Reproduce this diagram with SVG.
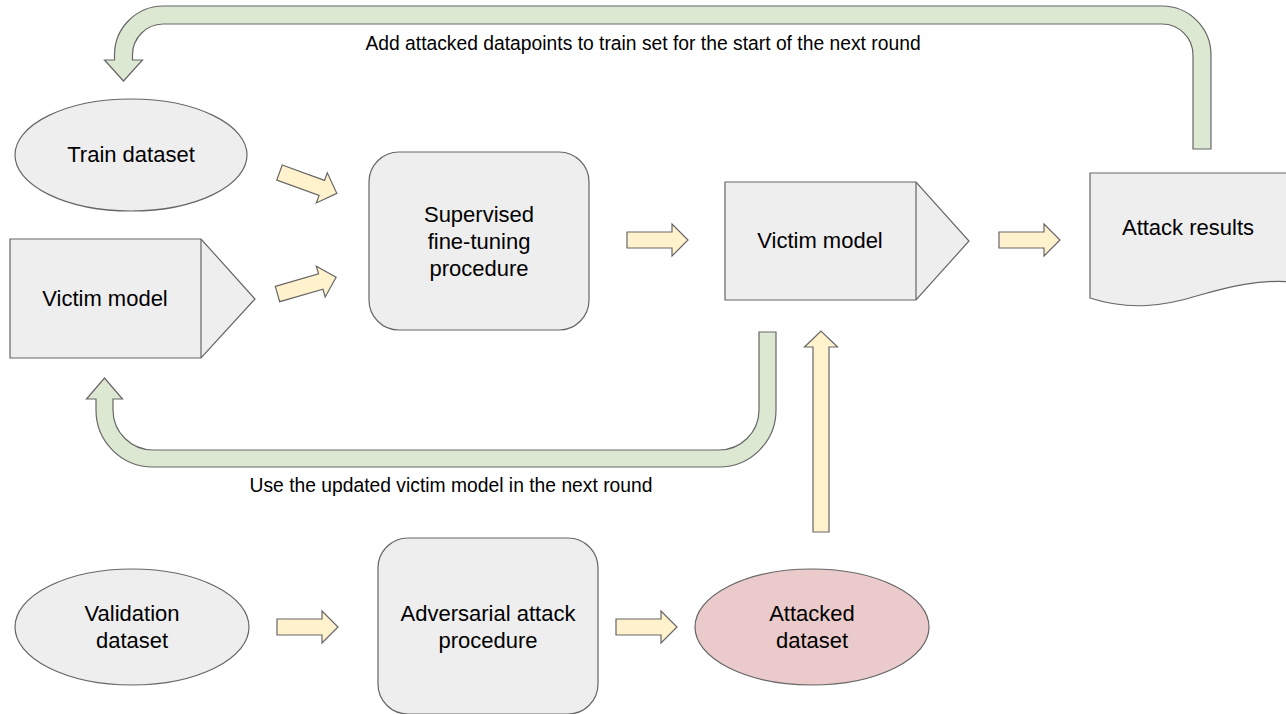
<svg xmlns="http://www.w3.org/2000/svg" xmlns:xlink="http://www.w3.org/1999/xlink" width="1286" height="714" viewBox="0 0 1286 714">
<defs>
<style>
.node{fill:#eeeeee;stroke:#666666;stroke-width:1.2}
.pink{fill:#eacaca;stroke:#666666;stroke-width:1.2}
.ya{fill:#fff2cc;stroke:#666666;stroke-width:1.2;stroke-linejoin:miter}
.ga{fill:#dde8d3;stroke:#666666;stroke-width:1.2}
.t{font-family:"Liberation Sans",Arial,sans-serif;font-size:22px;fill:#000000;text-anchor:middle}
.lbl{font-family:"Liberation Sans",Arial,sans-serif;font-size:19.3px;fill:#000000;text-anchor:middle}
</style>
<path id="ya" d="M0,-8 H45 V-16 L61,0 L45,16 V8 H0 Z"/>
</defs>
<rect width="1286" height="714" fill="#ffffff"/>

<g id="connectors">
<path class="ga" d="M1193,149 V55 A31,31 0 0 0 1162,24 H163 A31,31 0 0 0 132.5,55 V60 H142.5 L123.5,81 L104.5,60 H114.5 V55 A49,49 0 0 1 163,6 H1162 A49,49 0 0 1 1211,55 V149 Z"/>
<path class="ga" d="M759,332 V410 A40,40 0 0 1 719,450 H153 A40,40 0 0 1 113,410 V399 H122.5 L104.5,378 L86.5,399 H96 V410 A57,57 0 0 0 153,467 H719 A57,57 0 0 0 776,410 V332 Z"/>
<use xlink:href="#ya" class="ya" transform="translate(279.5,172.5) rotate(20)"/>
<use xlink:href="#ya" class="ya" transform="translate(277.5,294) rotate(-16)"/>
<use xlink:href="#ya" class="ya" transform="translate(627,240)"/>
<use xlink:href="#ya" class="ya" transform="translate(999,240)"/>
<use xlink:href="#ya" class="ya" transform="translate(277,627)"/>
<use xlink:href="#ya" class="ya" transform="translate(616,627)"/>
<path class="ya" d="M813,532 V347 H804.5 L821,331 L837.5,347 H829 V532 Z"/>
<text class="lbl" x="643" y="50">Add attacked datapoints to train set for the start of the next round</text>
<text class="lbl" x="451" y="492">Use the updated victim model in the next round</text>
</g>

<g id="train-dataset">
<ellipse class="node" cx="131" cy="155" rx="116" ry="56"/>
<text class="t" x="131" y="162">Train dataset</text>
</g>

<g id="victim-model-1">
<path class="node" d="M10,239 H201 L255,299 L201,358 H10 Z"/>
<line x1="201" y1="239" x2="201" y2="358" stroke="#666666" stroke-width="1.2"/>
<text class="t" x="105" y="306">Victim model</text>
</g>

<g id="supervised-fine-tuning">
<rect class="node" x="369" y="152" width="220" height="178" rx="30" ry="30"/>
<text class="t" x="479" y="222">Supervised</text>
<text class="t" x="479" y="249">fine-tuning</text>
<text class="t" x="479" y="276">procedure</text>
</g>

<g id="victim-model-2">
<path class="node" d="M725,182 H916 L969,241 L916,300 H725 Z"/>
<line x1="916" y1="182" x2="916" y2="300" stroke="#666666" stroke-width="1.2"/>
<text class="t" x="820" y="248">Victim model</text>
</g>

<g id="attack-results">
<path class="node" d="M1090,173 H1292 V282 C1260,279 1228,287 1200,295 C1165,306 1130,311 1090,298 Z"/>
<text class="t" x="1188" y="235">Attack results</text>
</g>

<g id="validation-dataset">
<ellipse class="node" cx="132" cy="627" rx="117" ry="58"/>
<text class="t" x="132" y="621">Validation</text>
<text class="t" x="132" y="648">dataset</text>
</g>

<g id="adversarial-attack">
<rect class="node" x="378" y="538" width="220" height="176" rx="30" ry="30"/>
<text class="t" x="488" y="621">Adversarial attack</text>
<text class="t" x="488" y="648">procedure</text>
</g>

<g id="attacked-dataset">
<ellipse class="pink" cx="812" cy="627" rx="117" ry="58"/>
<text class="t" x="812" y="621">Attacked</text>
<text class="t" x="812" y="648">dataset</text>
</g>
</svg>
